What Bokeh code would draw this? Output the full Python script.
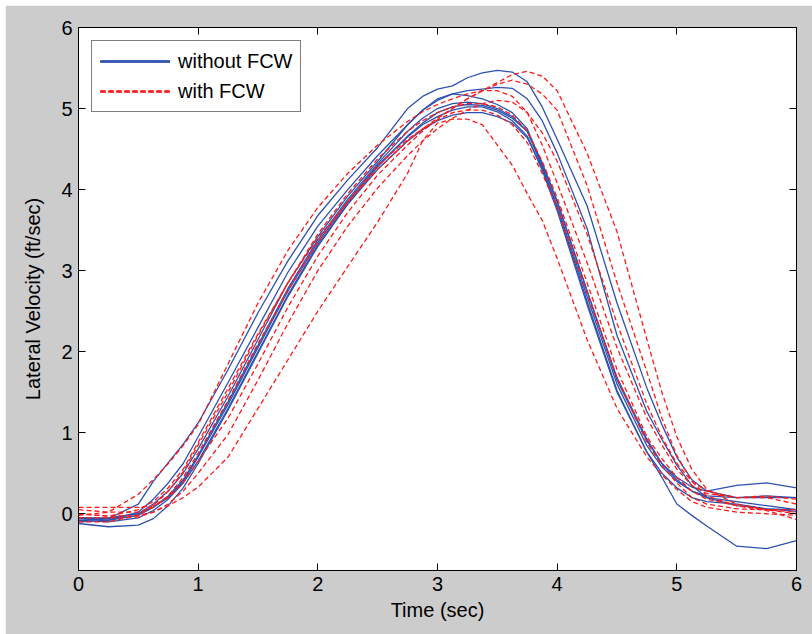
from bokeh.plotting import figure
from bokeh.models import FixedTicker, LinearAxis, Range1d
from bokeh.embed import file_html
from bokeh.resources import INLINE

# ---- data ----
time_s = [0.0, 0.25, 0.5, 0.625, 0.75, 0.875, 1.0, 1.25, 1.5, 1.75, 2.0, 2.25, 2.5, 2.75,
          2.875, 3.0, 3.125, 3.25, 3.375, 3.5, 3.625, 3.75, 3.875, 4.0,
          4.25, 4.5, 4.75, 4.875, 5.0, 5.125, 5.25, 5.5, 5.75, 6.0]

without_fcw_1 = [-0.08, -0.06, 0.12, 0.40, 0.63, 0.86, 1.12, 1.78, 2.48, 3.12, 3.68, 4.12, 4.52, 5.00,
                 5.15, 5.24, 5.28, 5.38, 5.44, 5.47, 5.45, 5.33, 5.02, 4.62,
                 3.80, 2.60, 1.55, 1.10, 0.70, 0.42, 0.28, 0.20, 0.22, 0.20]
without_fcw_2 = [-0.05, -0.06, 0.00, 0.12, 0.28, 0.50, 0.80, 1.45, 2.15, 2.85, 3.42, 3.92, 4.35, 4.80,
                 4.98, 5.10, 5.18, 5.22, 5.24, 5.26, 5.25, 5.12, 4.85, 4.45,
                 3.52, 2.20, 1.26, 0.92, 0.60, 0.35, 0.20, 0.10, 0.06, 0.05]
without_fcw_3 = [-0.05, -0.08, 0.02, 0.18, 0.38, 0.62, 0.95, 1.62, 2.30, 2.98, 3.55, 4.00, 4.42, 4.80,
                 4.98, 5.12, 5.18, 5.16, 5.12, 5.05, 4.95, 4.75, 4.30, 3.85,
                 2.75, 1.65, 0.90, 0.62, 0.45, 0.33, 0.28, 0.35, 0.38, 0.32]
without_fcw_4 = [-0.10, -0.08, -0.02, 0.08, 0.22, 0.42, 0.72, 1.38, 2.08, 2.78, 3.38, 3.88, 4.32, 4.72,
                 4.88, 5.00, 5.06, 5.08, 5.06, 5.00, 4.90, 4.72, 4.28, 3.78,
                 2.62, 1.52, 0.76, 0.45, 0.12, -0.02, -0.15, -0.40, -0.43, -0.33]
without_fcw_5 = [-0.12, -0.16, -0.14, -0.06, 0.10, 0.32, 0.62, 1.28, 1.98, 2.68, 3.30, 3.82, 4.28, 4.66,
                 4.82, 4.95, 5.02, 5.05, 5.04, 4.98, 4.88, 4.72, 4.33, 3.86,
                 2.75, 1.68, 0.92, 0.62, 0.42, 0.28, 0.20, 0.15, 0.10, 0.05]
without_fcw_6 = [-0.05, -0.05, 0.00, 0.08, 0.20, 0.40, 0.70, 1.35, 2.05, 2.75, 3.35, 3.85, 4.30, 4.65,
                 4.80, 4.90, 4.98, 5.02, 5.02, 4.96, 4.85, 4.66, 4.24, 3.74,
                 2.58, 1.50, 0.76, 0.50, 0.32, 0.20, 0.15, 0.12, 0.06, 0.03]
without_fcw_7 = [-0.08, -0.10, -0.05, 0.04, 0.18, 0.38, 0.65, 1.30, 2.00, 2.70, 3.32, 3.82, 4.25, 4.60,
                 4.74, 4.85, 4.92, 4.95, 4.95, 4.90, 4.82, 4.64, 4.26, 3.80,
                 2.68, 1.60, 0.84, 0.58, 0.40, 0.28, 0.22, 0.20, 0.20, 0.20]

with_fcw_1 = [0.00, -0.03, 0.05, 0.15, 0.32, 0.55, 0.88, 1.55, 2.22, 2.85, 3.40, 3.85, 4.25, 4.60,
              4.75, 4.88, 5.00, 5.12, 5.22, 5.32, 5.42, 5.46, 5.40, 5.22,
              4.45, 3.48, 2.15, 1.50, 0.95, 0.55, 0.30, 0.12, 0.05, 0.00]
with_fcw_2 = [0.08, 0.08, 0.08, 0.10, 0.20, 0.38, 0.65, 1.18, 1.85, 2.55, 3.18, 3.72, 4.18, 4.55,
              4.72, 4.88, 5.00, 5.12, 5.22, 5.30, 5.35, 5.30, 5.18, 4.98,
              4.05, 2.85, 1.75, 1.18, 0.72, 0.40, 0.22, 0.10, 0.04, -0.07]
with_fcw_3 = [-0.02, 0.02, 0.24, 0.42, 0.62, 0.84, 1.10, 1.85, 2.60, 3.25, 3.78, 4.20, 4.55, 4.84,
              4.96, 5.05, 5.12, 5.18, 5.22, 5.22, 5.15, 4.95, 4.55, 4.08,
              3.10, 2.05, 1.18, 0.85, 0.55, 0.35, 0.25, 0.20, 0.22, 0.18]
with_fcw_4 = [-0.10, -0.10, -0.02, 0.10, 0.28, 0.52, 0.85, 1.50, 2.20, 2.85, 3.45, 3.95, 4.38, 4.72,
              4.85, 4.95, 5.02, 5.06, 5.06, 5.02, 4.92, 4.72, 4.35, 3.90,
              2.85, 1.78, 0.95, 0.68, 0.45, 0.28, 0.18, 0.10, 0.05, 0.02]
with_fcw_5 = [0.05, 0.02, 0.02, 0.08, 0.22, 0.45, 0.75, 1.40, 2.10, 2.75, 3.35, 3.85, 4.30, 4.62,
              4.75, 4.86, 4.95, 4.98, 4.98, 4.92, 4.80, 4.58, 4.20, 3.78,
              2.72, 1.68, 0.88, 0.60, 0.38, 0.20, 0.12, 0.06, 0.05, 0.05]
with_fcw_6 = [-0.05, -0.05, -0.04, 0.02, 0.12, 0.28, 0.50, 0.98, 1.65, 2.35, 3.00, 3.55, 4.02, 4.42,
              4.60, 4.75, 4.88, 4.98, 5.06, 5.10, 5.08, 4.95, 4.70, 4.35,
              3.45, 2.35, 1.35, 0.95, 0.62, 0.40, 0.28, 0.20, 0.20, 0.12]
with_fcw_7 = [0.00, -0.03, -0.02, 0.02, 0.10, 0.20, 0.33, 0.70, 1.30, 1.90, 2.50, 3.05, 3.60, 4.20,
              4.60, 4.82, 4.87, 4.87, 4.80, 4.55, 4.30, 3.95, 3.62, 3.15,
              2.15, 1.30, 0.70, 0.48, 0.30, 0.15, 0.08, 0.02, 0.00, -0.02]

without_fcw = [without_fcw_1, without_fcw_2, without_fcw_3, without_fcw_4,
               without_fcw_5, without_fcw_6, without_fcw_7]
with_fcw = [with_fcw_1, with_fcw_2, with_fcw_3, with_fcw_4,
            with_fcw_5, with_fcw_6, with_fcw_7]

x_ticks = [0, 1, 2, 3, 4, 5, 6]
y_ticks = [0, 1, 2, 3, 4, 5, 6]

# ---- styling ----
FONT = "Liberation Sans"
FS = "20px"
GRAY = "#cccccc"
BLUE = "#2c52b0"
RED = "#ff1a1a"

p = figure(width=807, height=629, output_backend="svg", toolbar_location=None,
           x_range=Range1d(0, 6), y_range=Range1d(-0.7, 6),
           min_border_left=73, min_border_right=16, min_border_top=22, min_border_bottom=64,
           background_fill_color="white", border_fill_color=GRAY,
           outline_line_color="black", outline_line_width=1)
p.margin = (5, 0, 0, 5)
p.xgrid.visible = False
p.ygrid.visible = False

for ys in without_fcw:
    p.line(time_s, ys, line_color=BLUE, line_width=1.3, legend_label="without FCW")
for ys in with_fcw:
    p.line(time_s, ys, line_color=RED, line_width=1.3, line_dash="5 3", legend_label="with FCW")


def style_axis(ax, ticks, show_labels=True):
    ax.ticker = FixedTicker(ticks=ticks)
    ax.axis_line_color = "black"
    ax.major_tick_line_color = "black"
    ax.major_tick_in = 7
    ax.major_tick_out = 0
    ax.minor_tick_line_color = None
    ax.major_label_text_font = FONT
    ax.major_label_text_font_size = FS
    ax.major_label_text_color = "black"
    ax.axis_label_text_font = FONT
    ax.axis_label_text_font_size = FS
    ax.axis_label_text_font_style = "normal"
    ax.axis_label_text_color = "black"
    if not show_labels:
        ax.major_label_text_font_size = "0px"
        ax.major_label_text_color = None
        ax.major_label_standoff = 0


xa = p.xaxis[0]
ya = p.yaxis[0]
xa.axis_label = "Time (sec)"
ya.axis_label = "Lateral Velocity (ft/sec)"
style_axis(xa, x_ticks)
style_axis(ya, y_ticks)
xa.major_label_standoff = 6
xa.axis_label_standoff = 5
ya.major_label_standoff = 6
ya.axis_label_standoff = 14

top = LinearAxis()
right = LinearAxis()
p.add_layout(top, "above")
p.add_layout(right, "right")
style_axis(top, x_ticks, False)
style_axis(right, y_ticks, False)

leg = p.legend[0]
leg.location = "top_left"
leg.margin = 13
leg.padding = 8
leg.spacing = 6
leg.glyph_width = 70
leg.glyph_height = 24
leg.label_height = 24
leg.label_standoff = 8
leg.label_text_font = FONT
leg.label_text_font_size = FS
leg.label_text_color = "black"
leg.border_line_color = "black"
leg.border_line_width = 1
leg.background_fill_color = "white"
leg.background_fill_alpha = 1.0

open("out.html", "w").write(file_html(p, INLINE))
